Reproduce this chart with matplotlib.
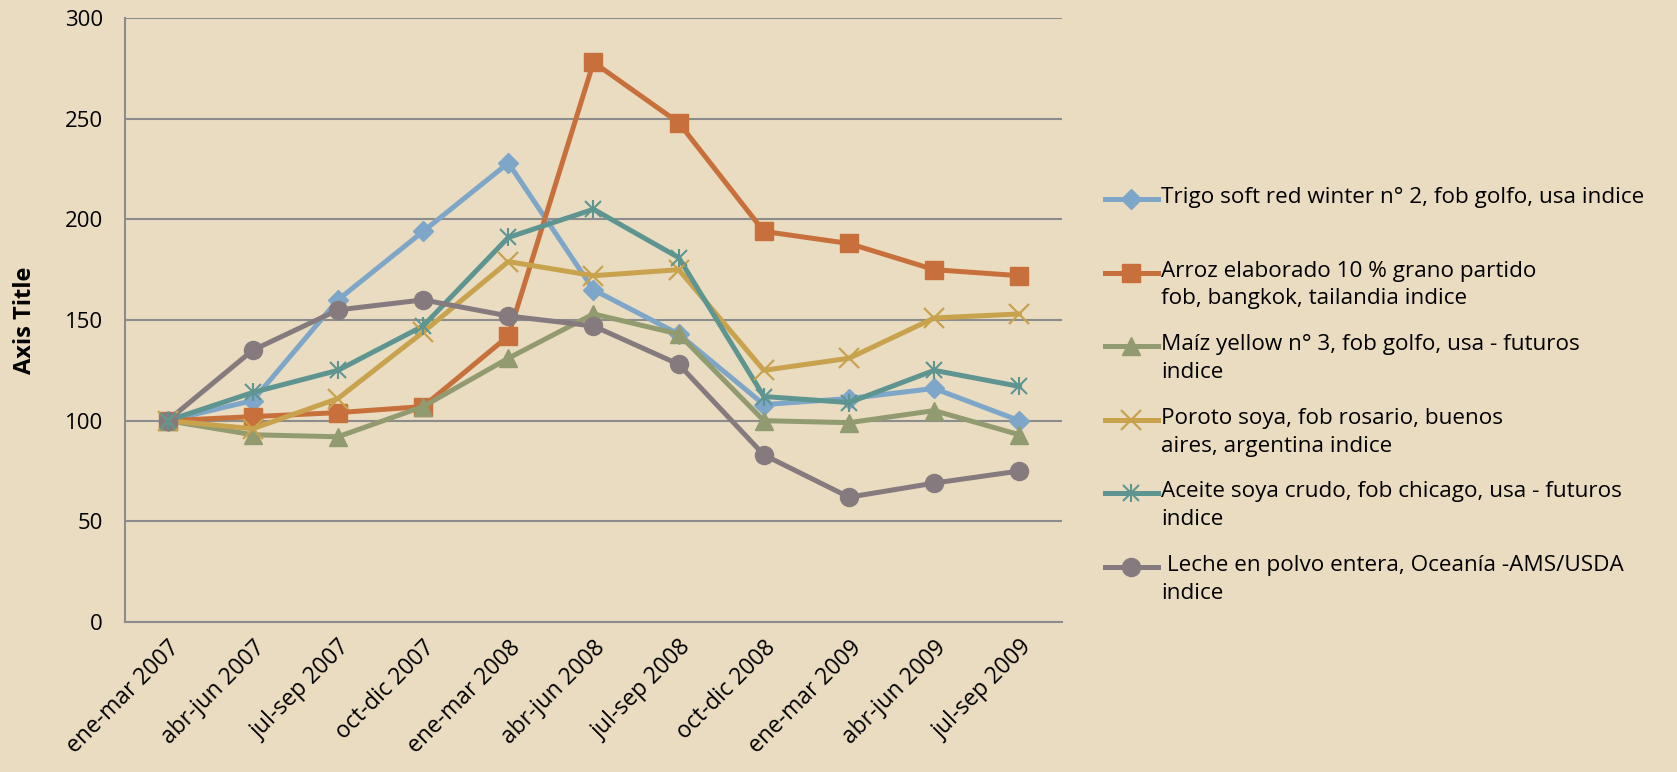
import matplotlib
matplotlib.use("Agg")
import matplotlib.pyplot as plt
from matplotlib.lines import Line2D

categories = ["ene-mar 2007", "abr-jun 2007", "jul-sep 2007", "oct-dic 2007",
              "ene-mar 2008", "abr-jun 2008", "jul-sep 2008", "oct-dic 2008",
              "ene-mar 2009", "abr-jun 2009", "jul-sep 2009"]

trigo = [100, 110, 160, 194, 228, 165, 143, 108, 111, 116, 100]
arroz = [100, 102, 104, 107, 142, 278, 248, 194, 188, 175, 172]
maiz = [100, 93, 92, 107, 131, 153, 143, 100, 99, 105, 93]
poroto = [100, 96, 111, 144, 179, 172, 175, 125, 131, 151, 153]
aceite = [100, 114, 125, 147, 191, 205, 181, 112, 109, 125, 117]
leche = [100, 135, 155, 160, 152, 147, 128, 83, 62, 69, 75]

labels = [
    "Trigo soft red winter n° 2, fob golfo, usa indice",
    "Arroz elaborado 10 % grano partido\nfob, bangkok, tailandia indice",
    "Maíz yellow n° 3, fob golfo, usa - futuros\nindice",
    "Poroto soya, fob rosario, buenos\naires, argentina indice",
    "Aceite soya crudo, fob chicago, usa - futuros\nindice",
    " Leche en polvo entera, Oceanía -AMS/USDA\nindice",
]
yticks = [0, 50, 100, 150, 200, 250, 300]

series = [trigo, arroz, maiz, poroto, aceite, leche]
colors = ["#7EA6C8", "#C8703C", "#929A70", "#C8A24C", "#5F9590", "#857B7E"]
markers = ["D", "s", "^", "x", "*", "o"]
msizes = [10.5, 13, 13, 14, 14, 13]

BG = "#E9DCC1"
LW = 3.6
plt.rcParams['font.family'] = ['Open Sans', 'DejaVu Sans']

fig = plt.figure(figsize=(16.77, 7.72), dpi=100, facecolor=BG)
ax = fig.add_axes([125/1677, 1 - 622/772, (1062-125)/1677, (622-18)/772])
ax.set_facecolor(BG)

x = list(range(len(categories)))
for vals, c, m, ms in zip(series, colors, markers, msizes):
    if m in ("x", "*"):
        ax.plot(x, vals, color=c, lw=LW, zorder=3)
        if m == "x":
            ax.plot(x, vals, ls="none", marker="x", ms=ms, mew=1.6, color=c, zorder=4)
        else:
            ax.plot(x, vals, ls="none", marker="x", ms=ms*0.85, mew=1.5, color=c, zorder=4)
            ax.plot(x, vals, ls="none", marker="|", ms=ms*0.95, mew=1.5, color=c, zorder=4)
    else:
        ax.plot(x, vals, color=c, lw=LW, marker=m, ms=ms, mec=c, mfc=c, zorder=3)

ax.set_xlim(-0.5, len(categories) - 0.5)
ax.set_ylim(0, 300)
ax.set_yticks(yticks)
ax.set_yticklabels([str(v) for v in yticks], fontsize=16)
ax.set_xticks(x)
ax.set_xticklabels(categories, rotation=45, ha="right", rotation_mode="anchor", fontsize=16.5)
ax.tick_params(axis="y", length=0, pad=16)
ax.tick_params(axis="x", length=0, pad=10)
ax.grid(axis="y", color="#8C8C8C", lw=1.5, zorder=1)
ax.set_axisbelow(True)
for s in ["top", "right"]:
    ax.spines[s].set_visible(False)
for s in ["left", "bottom"]:
    ax.spines[s].set_color("#8C8C8C")
    ax.spines[s].set_linewidth(1.5)
ax.set_ylabel("Axis Title", fontsize=17, fontweight="bold", labelpad=20)

# manual legend (Excel style: handle aligned to first line)
W, H = 1677, 772
y0 = 199
step = 73.6
for i, (lab, c, m, ms) in enumerate(zip(labels, colors, markers, msizes)):
    yy = 1 - (y0 + i * step) / H
    fig.add_artist(Line2D([1105/W, 1158/W], [yy, yy], transform=fig.transFigure,
                          color=c, lw=LW))
    if m == "*":
        fig.add_artist(Line2D([1131/W], [yy], transform=fig.transFigure, ls="none",
                              marker="x", ms=ms*0.85, mew=1.5, color=c))
        fig.add_artist(Line2D([1131/W], [yy], transform=fig.transFigure, ls="none",
                              marker="|", ms=ms*0.95, mew=1.5, color=c))
    elif m == "x":
        fig.add_artist(Line2D([1131/W], [yy], transform=fig.transFigure, ls="none",
                              marker="x", ms=ms, mew=1.6, color=c))
    else:
        fig.add_artist(Line2D([1131/W], [yy], transform=fig.transFigure, ls="none",
                              marker=m, ms=ms, color=c, mec=c))
    fig.text(1161/W, yy + 12/H, lab, fontsize=16.2, va="top", ha="left",
             linespacing=1.43)

fig.savefig("out.png", dpi=100, facecolor=BG)
